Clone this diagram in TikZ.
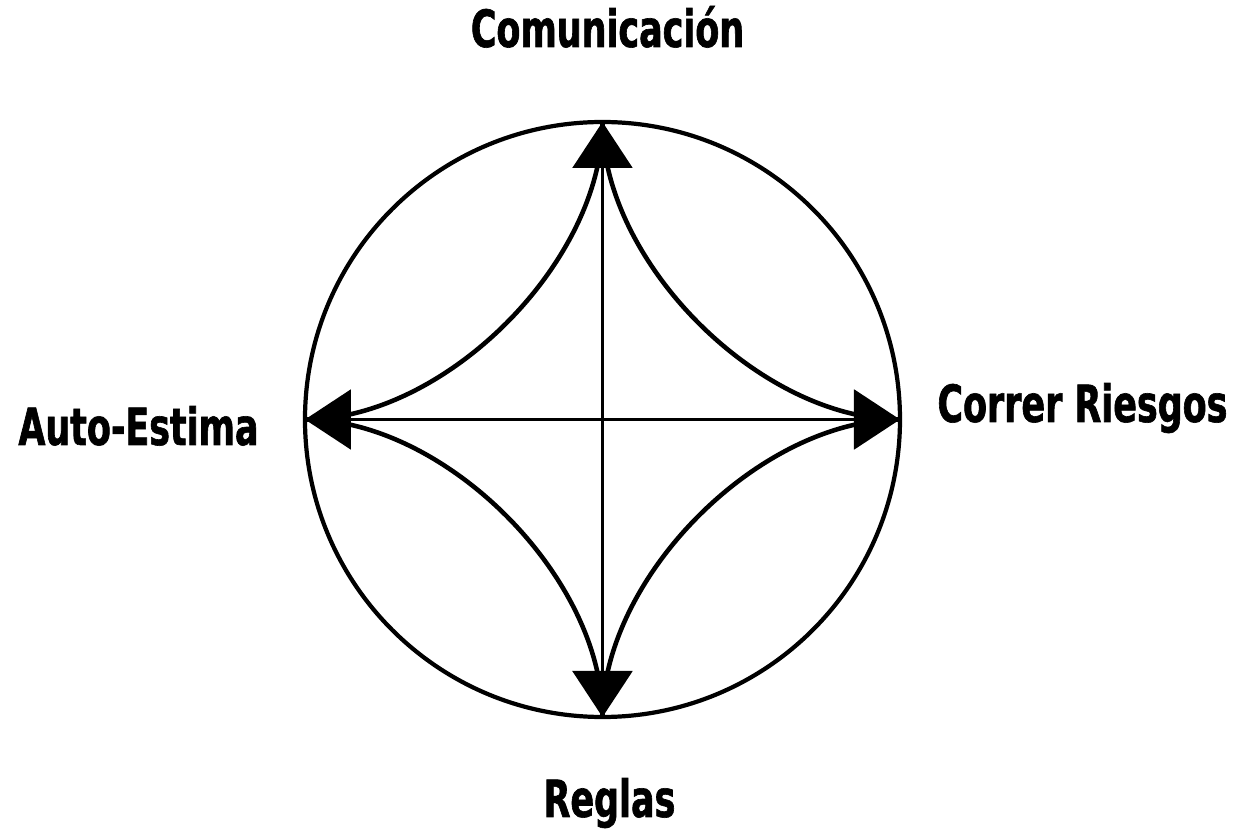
\documentclass[tikz,border=0pt]{standalone}
\usepackage{fontspec}
\newfontfamily\lblfont[FakeStretch=0.68, FakeBold=1.2]{DejaVu Sans}
\usetikzlibrary{arrows.meta, calc, positioning}
\tikzset{
  rim/.style      = {line width=1.2pt, black},
  axisline/.style = {{Triangle[length=4.6mm, width=6mm]}-{Triangle[length=4.6mm, width=6mm]},
                     line width=0.6pt, black},
  sweep/.style    = {line width=1.3pt, black},
  lbl/.style      = {font=\lblfont\bfseries\fontsize{14.6}{16}\selectfont,
                     anchor=base, inner sep=0pt},
}

\begin{document}
\begin{tikzpicture}[x=1cm,y=1cm]
  \useasboundingbox (-6.025,-4.145) rectangle (6.375,4.195);
  \def\rad{2.975}
  \coordinate (O) at (0,0);
  \coordinate (N) at (0,\rad);
  \coordinate (S) at (0,-\rad);
  \coordinate (W) at (-\rad,0);
  \coordinate (E) at (\rad,0);
  \draw[rim] (O) circle (\rad);
  % the four labels
  \node[lbl] (com) at (0.05,3.725) {Comunicación};
  \node[lbl] (reg) at (0.07,-3.975) {Reglas};
  \node[lbl] (auto) at (-4.64,-0.255) {Auto-Estima};
  \node[lbl] (risk) at (4.8,-0.025) {Correr Riesgos};
  % straight axes
  \draw[axisline] (N) -- (S);
  \draw[axisline] (W) -- (E);
  % curved sides, bending toward the centre
  \draw[sweep] (N) .. controls +(0,-1.4) and +(-1.4,0) .. (E);
  \draw[sweep] (E) .. controls +(-1.4,0) and +(0,1.4) .. (S);
  \draw[sweep] (S) .. controls +(0,1.4) and +(1.4,0) .. (W);
  \draw[sweep] (W) .. controls +(1.4,0) and +(0,-1.4) .. (N);
\end{tikzpicture}
\end{document}
